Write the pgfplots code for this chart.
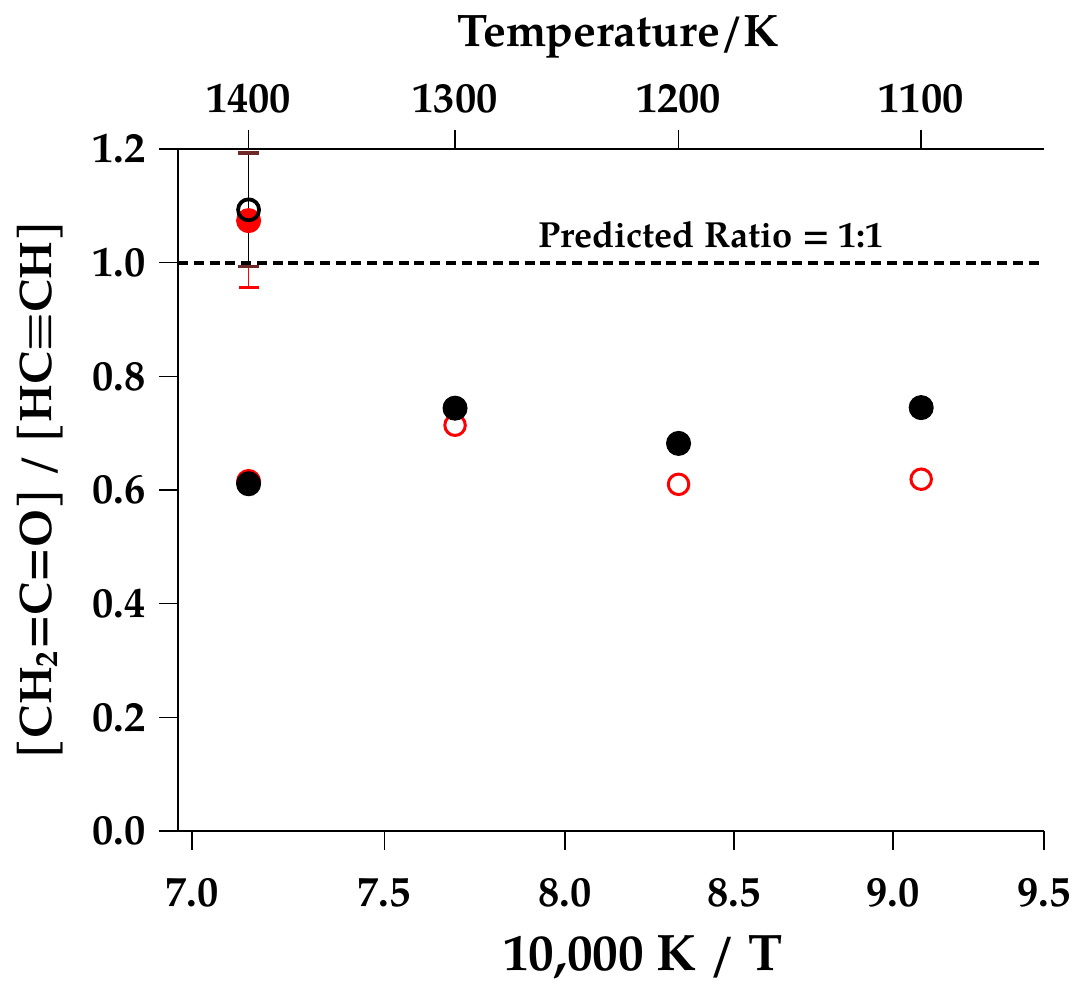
\documentclass[border=0pt]{standalone}
\usepackage{pgfplots}
\pgfplotsset{compat=1.18}
\usepackage{fontspec}
\setmainfont{TeX Gyre Pagella}

\definecolor{capdark}{RGB}{110,40,40}

\pgfplotsset{
  common/.style={
    at={(0,0)}, anchor=south west,
    scale only axis, width=346.4pt, height=272.8pt,
    xmin=6.965, xmax=9.5, ymin=0, ymax=1.2,
    axis line style={-, line width=0.6pt},
    tick align=outside, major tick length=7.6pt,
    tick style={line width=0.6pt, black},
    ticklabel style={font=\fontsize{17}{20}\selectfont\bfseries},
    label style={font=\fontsize{18.2}{22}\selectfont\bfseries},
    clip=false,
  }
}

\begin{document}
\begin{tikzpicture}
\useasboundingbox (-71.2pt,-62.4pt) rectangle (360.4pt,332.4pt);
\begin{axis}[
  xmode=log,
  common,
  axis x line*=bottom, axis y line*=left,
  xtick={7,7.5,8,8.5,9,9.5},
  xticklabels={7.0,7.5,8.0,8.5,9.0,9.5},
  xticklabel shift=8pt,
  ytick={0,0.2,0.4,0.6,0.8,1.0,1.2},
  yticklabels={0.0,0.2,0.4,0.6,0.8,1.0,1.2},
  yticklabel shift=2pt,
  xlabel={10,000 K / T},
  xlabel style={at={(axis description cs:0.537,0)}, anchor=base, yshift=-55.6pt,
    font=\fontsize{20.5}{24}\selectfont\bfseries},
  ylabel={[CH\textsubscript{2}=C=O] / [HC{\boldmath$\equiv$}CH]},
  ylabel style={at={(axis description cs:0,0.5)}, anchor=center, yshift=55.2pt},
]
% predicted ratio
\addplot[black, line width=1.6pt, dash pattern=on 4pt off 2.3pt] coordinates {(6.965,1) (9.5,1)};
\node[anchor=base, font=\fontsize{14.5}{17}\selectfont\bfseries] at (rel axis cs:0.6155,0.855) {Predicted Ratio = 1:1};

% red series
\addplot[only marks, mark=*, red, mark size=4.8pt,
  error bars/.cd, y dir=both, y explicit,
  error bar style={red, line width=0.6pt},
  error mark options={rotate=90, red, mark size=4pt, line width=1.2pt}]
  coordinates {(7.142857,0.615) (7.142857,1.074) += (0,0.119) -= (0,0.118)};
\addplot[only marks, mark=o, red, mark size=4.1pt, mark options={line width=1.2pt}]
  coordinates {(7.692308,0.714) (8.333333,0.610) (9.090909,0.619)};

% black series
\addplot[only marks, mark=o, black, mark size=4.2pt, mark options={line width=1.5pt},
  error bars/.cd, y dir=both, y explicit,
  error bar style={black, line width=0.6pt},
  error mark options={rotate=90, capdark, mark size=4.2pt, line width=1.4pt}]
  coordinates {(7.142857,1.093) +- (0,0.100)};
\addplot[only marks, mark=*, black, mark size=4.8pt]
  coordinates {(7.142857,0.611) (7.692308,0.744) (8.333333,0.682) (9.090909,0.745)};
\end{axis}

\begin{axis}[
  xmode=log,
  common,
  axis x line*=top, axis y line=none,
  xtick={7.142857,7.692308,8.333333,9.090909},
  xticklabels={1400,1300,1200,1100},
  xticklabel shift=3.2pt,
  xlabel={Temperature/K},
  xlabel style={at={(axis description cs:0.508,1)}, anchor=base, yshift=40.8pt},
]
\end{axis}
\end{tikzpicture}
\end{document}
